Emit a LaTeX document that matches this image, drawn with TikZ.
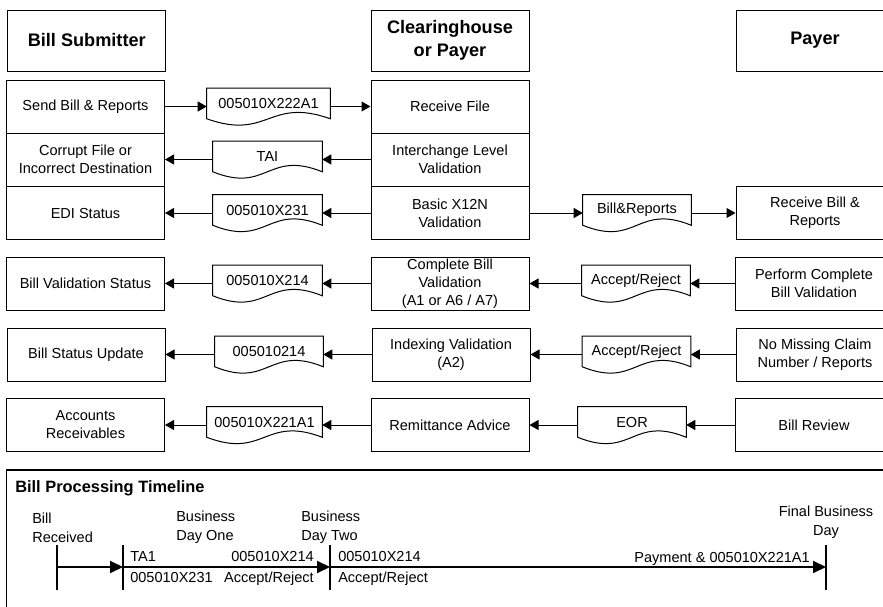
\documentclass[tikz,border=0pt]{standalone}
\usepackage{fontspec}
\setmainfont{Liberation Sans}
\usetikzlibrary{arrows.meta,calc}
\newcommand\docshape[5]{%
  \node[docnode, minimum width=#4] (#1) at (#2,#3-3) {#5};
  \draw[docline] (#1.north west) -- (#1.north east) -- (#1.south east)
    .. controls ($(#1.south)+(0,-22)$) and ($(#1.south)+(0,22)$) .. (#1.south west) -- cycle;
}
\begin{document}
\begin{tikzpicture}[x=0.75pt,y=-0.75pt,
  every node/.style={font=\fontsize{10.9pt}{13.5pt}\selectfont, align=center, inner sep=1pt},
  box/.style={draw, line width=0.75pt, minimum width=118.5pt, minimum height=39.75pt},
  hdr/.style={box, minimum height=45.75pt, font=\fontsize{13.6pt}{17.3pt}\selectfont\bfseries},
  docnode/.style={minimum height=22.5pt, inner sep=0pt},
  docline/.style={draw, line width=0.75pt},
  arr/.style={line width=0.75pt, -{Triangle[length=6.75pt,width=7.5pt]}},
  tl/.style={line width=1.5pt},
  tlarr/.style={tl, -{Triangle[length=9.75pt,width=9pt]}},
  lbl/.style={align=left, inner sep=0pt, font=\fontsize{10.9pt}{14.2pt}\selectfont}
]
\useasboundingbox (0,0) rectangle (883,607);
\clip (0,0) rectangle (883,607);

% headers
\node[hdr] (hBS) at (86.75,40.5) {Bill Submitter};
\node[hdr] (hCP) at (450,40.5) {Clearinghouse\\or Payer};
\node[hdr] (hP) at (815,40.5) {Payer};

% left column
\node[box] (l1) at (85.5,106.5) {Send Bill \& Reports};
\node[box] (l2) at (85.5,159.5) {Corrupt File or\\Incorrect Destination};
\node[box] (l3) at (85.5,213) {EDI Status};
\node[box] (l4) at (85.5,283.5) {Bill Validation Status};
\node[box] (l5) at (86,354.5) {Bill Status Update};
\node[box] (l6) at (85.5,425) {Accounts\\Receivables};

% middle column
\node[box] (m1) at (450,106.5) {Receive File};
\node[box] (m2) at (450,159.5) {Interchange Level\\Validation};
\node[box] (m3) at (450,213) {Basic X12N\\Validation};
\node[box] (m4) at (450,283.5) {Complete Bill\\Validation\\(A1 or A6 / A7)};
\node[box] (m5) at (451,354.5) {Indexing Validation\\(A2)};
\node[box] (m6) at (450,425) {Remittance Advice};

% right column
\node[box] (r3) at (815,213) {Receive Bill \&\\Reports};
\node[box] (r4) at (814,283.5) {Perform Complete\\Bill Validation};
\node[box] (r5) at (815,354.5) {No Missing Claim\\Number / Reports};
\node[box] (r6) at (814,425) {Bill Review};

% documents
\docshape{d1}{268.5}{106.5}{92.25pt}{005010X222A1}
\docshape{d2}{267.5}{159.5}{81.75pt}{TAI}
\docshape{d3}{267.5}{213}{81.75pt}{005010X231}
\docshape{d4}{267.5}{283.5}{81.75pt}{005010X214}
\docshape{d5}{269}{354.5}{81pt}{005010214}
\docshape{d6}{264.5}{425}{86.25pt}{005010X221A1}
\docshape{e3}{637}{213}{81pt}{Bill\&Reports}
\docshape{e4}{636}{283.5}{81pt}{Accept/Reject}
\docshape{e5}{636.5}{354.5}{81pt}{Accept/Reject}
\docshape{e6}{632}{425}{81pt}{EOR}

% connectors
\draw[arr] (l1.east) -- (l1.east -| d1.west);
\draw[arr] (d1.east |- m1.west) -- (m1.west);
\draw[arr] (m2.west) -- (m2.west -| d2.east);
\draw[arr] (d2.west |- l2.east) -- (l2.east);
\draw[arr] (m3.west) -- (m3.west -| d3.east);
\draw[arr] (d3.west |- l3.east) -- (l3.east);
\draw[arr] (m3.east) -- (m3.east -| e3.west);
\draw[arr] (e3.east |- r3.west) -- (r3.west);
\draw[arr] (m4.west) -- (m4.west -| d4.east);
\draw[arr] (d4.west |- l4.east) -- (l4.east);
\draw[arr] (r4.west) -- (r4.west -| e4.east);
\draw[arr] (e4.west |- m4.east) -- (m4.east);
\draw[arr] (m5.west) -- (m5.west -| d5.east);
\draw[arr] (d5.west |- l5.east) -- (l5.east);
\draw[arr] (r5.west) -- (r5.west -| e5.east);
\draw[arr] (e5.west |- m5.east) -- (m5.east);
\draw[arr] (m6.west) -- (m6.west -| d6.east);
\draw[arr] (d6.west |- l6.east) -- (l6.east);
\draw[arr] (r6.west) -- (r6.west -| e6.east);
\draw[arr] (e6.west |- m6.east) -- (m6.east);

% timeline frame
\draw[line width=0.9pt] (6.5,620) -- (6.5,470) -- (900,470);
\node[anchor=west, inner sep=0pt, font=\fontsize{12.3pt}{15pt}\selectfont\bfseries] (tltitle) at (15,488) {Bill Processing Timeline};

\coordinate (tA) at (57,567);
\coordinate (tB) at (123,567);
\coordinate (tC) at (330,567);
\coordinate (tD) at (826,567);
\foreach \t in {tA,tB,tC,tD}{
  \draw[tl] ($(\t)+(0,-22)$) -- ($(\t)+(0,23)$);
}
\draw[tlarr] (tA) -- (tB);
\draw[tlarr] (tB) -- (tC);
\draw[tlarr] (tC) -- (tD);

\node[lbl, anchor=west] (lbR) at (32,527.5) {Bill\\Received};
\node[lbl, anchor=west] (lbD1) at (176,527.5) {Business\\Day One};
\node[lbl, anchor=west] (lbD2) at (301,527.5) {Business\\Day Two};
\node[lbl, anchor=base west] (lTA1) at (130,561.5) {TA1};
\node[lbl, anchor=base west] (l231) at (130,582) {005010X231};
\node[lbl, anchor=base east] (l214a) at (314,561.5) {005010X214};
\node[lbl, anchor=base east] (lARa) at (314,582) {Accept/Reject};
\node[lbl, anchor=base west] (l214b) at (338,561.5) {005010X214};
\node[lbl, anchor=base west] (lARb) at (338,582) {Accept/Reject};
\node[lbl, anchor=base east] (lPay) at (810,562) {Payment \& 005010X221A1};
\node[lbl, align=center] (lFin) at (826,522.5) {Final Business\\Day};
\end{tikzpicture}
\end{document}
